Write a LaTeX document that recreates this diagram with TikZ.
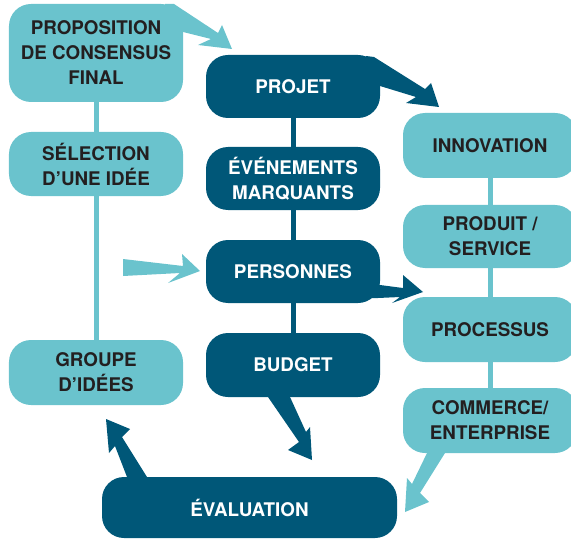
\documentclass[tikz,border=0pt]{standalone}
\usepackage{fontspec}
\setmainfont{TeX Gyre Heros}
\usetikzlibrary{backgrounds}
\definecolor{lite}{HTML}{6AC3CD}
\definecolor{dark}{HTML}{005778}
\definecolor{txt}{HTML}{231F20}
\begin{document}
\begin{tikzpicture}[x=1bp,y=-1bp,
  box/.style={rectangle, rounded corners=22bp, inner sep=0pt, align=center,
    font=\bfseries\fontsize{18.8bp}{25bp}\selectfont, minimum width=174bp},
  litebox/.style={box, fill=lite, text=txt},
  darkbox/.style={box, fill=dark, text=white},
  litelink/.style={draw=lite, line width=5bp},
  darklink/.style={draw=dark, line width=5bp},
  litetail/.style={fill=lite},
  darktail/.style={fill=dark}]
\useasboundingbox (0,0) rectangle (571,539);
\clip (0,0) rectangle (571,539);
% left column
\node[litebox, minimum height=98bp] (prop) at (96,53) {PROPOSITION\\DE CONSENSUS\\FINAL};
\node[litebox, minimum height=64bp] (sel) at (96,164) {SÉLECTION\\D’UNE IDÉE};
\node[litebox, minimum height=65bp] (grp) at (96,372.5) {GROUPE\\D’IDÉES};
% middle column
\node[darkbox, minimum height=63bp] (projet) at (293,86.5) {PROJET};
\node[darkbox, minimum height=63bp] (evt) at (293,178.5) {ÉVÉNEMENTS\\MARQUANTS};
\node[darkbox, minimum height=63bp] (pers) at (293,271.5) {PERSONNES};
\node[darkbox, minimum height=64bp] (budget) at (293,365) {BUDGET};
\node[darkbox, minimum height=61bp, minimum width=295bp] (eval) at (249.5,507.5) {ÉVALUATION};
% right column
\node[litebox, minimum height=65bp] (innov) at (490,145.5) {INNOVATION};
\node[litebox, minimum height=63bp] (prod) at (490,236.5) {PRODUIT /\\SERVICE};
\node[litebox, minimum height=65bp] (proc) at (490,329.5) {PROCESSUS};
\node[litebox, minimum height=65bp] (comm) at (490,420.5) {COMMERCE/\\ENTERPRISE};
\begin{pgfonlayer}{background}
  % connecting lines
  \draw[litelink] (prop) -- (sel) -- (grp);
  \draw[darklink] (projet) -- (evt) -- (pers) -- (budget);
  \draw[litelink] (innov) -- (prod) -- (proc) -- (comm);
  % tails / arrows
  \fill[litetail] (165,4) -- (174,4) -- (218,33) -- (222,25) -- (232,49) -- (198,45) -- (211,39) -- (183,32) -- (175,40) -- cycle;
  \fill[darktail] (366,56) -- (374,57) -- (425,89) -- (431,83) -- (439,107) -- (406,103) -- (416,97) -- (380,86) -- (372,92) -- cycle;
  \fill[darktail] (370,282) -- (380,285) -- (403,288) -- (403,275) -- (423,292) -- (392,303) -- (400,297) -- (378,298) -- (370,298) -- cycle;
  \fill[darktail] (268,390) -- (268,397) -- (299,442) -- (288,450) -- (312,460) -- (310,427) -- (306,432) -- (290,397) -- (290,390) -- cycle;
  \fill[darktail] (127,482) -- (127,477) -- (115,446) -- (109,453) -- (106,419) -- (130,429) -- (122,437) -- (147,477) -- (147,482) -- cycle;
  \fill[litetail] (427,448) -- (427,453) -- (412,484) -- (407,478) -- (405,512) -- (429,502) -- (420,493) -- (445,453) -- (445,448) -- cycle;
  \fill[litetail] (123,259) -- (183,266) -- (182,254) -- (200,271) -- (168,283) -- (180,273) -- (123,276) -- cycle;
\end{pgfonlayer}
\end{tikzpicture}
\end{document}
